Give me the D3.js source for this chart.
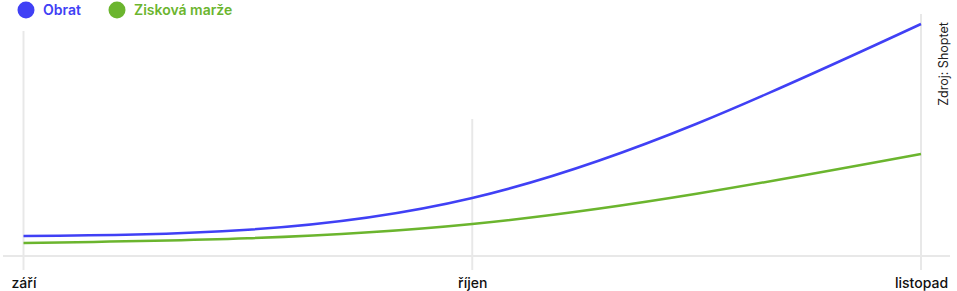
<!DOCTYPE html>
<html>
<head>
<meta charset="utf-8">
<script src="https://cdn.jsdelivr.net/npm/d3@7"></script>
<style>
  body { margin: 0; background: #fff; }
  svg { display: block; font-family: Inter, "Noto Sans", sans-serif; }
</style>
</head>
<body>
<div class="chart"></div>
<script>
const months = ["září", "říjen", "listopad"];
const obrat = [20, 58, 232];
const marze = [13, 32, 102];
const gridTop = [225, 137, 242];

const series = [
  { name: "Obrat", values: obrat, color: "#4040f5" },
  { name: "Zisková marže", values: marze, color: "#6bb52e" }
];

const width = 957;
const height = 291;

const svg = d3.select(".chart")
  .append("svg")
  .attr("width", width)
  .attr("height", height);

const x = d3.scalePoint()
  .domain(months)
  .range([23.5, 921]);

const y = d3.scaleLinear()
  .domain([0, 250])
  .range([256, 6]);

// vertical grid lines, running a bit past the baseline
svg.selectAll(".grid")
  .data(months)
  .enter()
  .append("line")
  .attr("class", "grid")
  .attr("x1", d => x(d))
  .attr("x2", d => x(d))
  .attr("y1", (d, i) => y(gridTop[i]))
  .attr("y2", 270)
  .attr("stroke", "#e8e8e8")
  .attr("stroke-width", 2);

// baseline
svg.append("line")
  .attr("x1", 3)
  .attr("x2", 950)
  .attr("y1", y(0))
  .attr("y2", y(0))
  .attr("stroke", "#e8e8e8")
  .attr("stroke-width", 2);

// x axis labels
const xAxis = d3.axisBottom(x).tickSize(0).tickPadding(0);
const gx = svg.append("g")
  .attr("transform", "translate(0,288)")
  .call(xAxis);
gx.select(".domain").remove();
gx.selectAll("text")
  .attr("dy", 0)
  .attr("fill", "#111")
  .style("font-family", "Inter, sans-serif")
  .style("font-size", "14px")
  .style("font-weight", 500);

const line = d3.line()
  .x((d, i) => x(months[i]))
  .y(d => y(d))
  .curve(d3.curveNatural);

svg.selectAll(".series")
  .data(series)
  .enter()
  .append("path")
  .attr("class", "series")
  .attr("d", d => line(d.values))
  .attr("fill", "none")
  .attr("stroke", d => d.color)
  .attr("stroke-width", 2.5);

// legend
const legendX = [26, 117];
const legend = svg.selectAll(".legend")
  .data(series)
  .enter()
  .append("g")
  .attr("class", "legend")
  .attr("transform", (d, i) => `translate(${legendX[i]},10)`);

legend.append("circle")
  .attr("r", 8.5)
  .attr("fill", d => d.color);

legend.append("text")
  .attr("x", 17)
  .attr("y", 5)
  .text(d => d.name)
  .attr("fill", d => d.color)
  .style("font-size", "14px")
  .style("font-weight", 600);

// source note
svg.append("text")
  .attr("transform", "translate(948,64) rotate(-90)")
  .attr("text-anchor", "middle")
  .attr("fill", "#222")
  .style("font-size", "12.5px")
  .text("Zdroj: Shoptet");
</script>
</body>
</html>
